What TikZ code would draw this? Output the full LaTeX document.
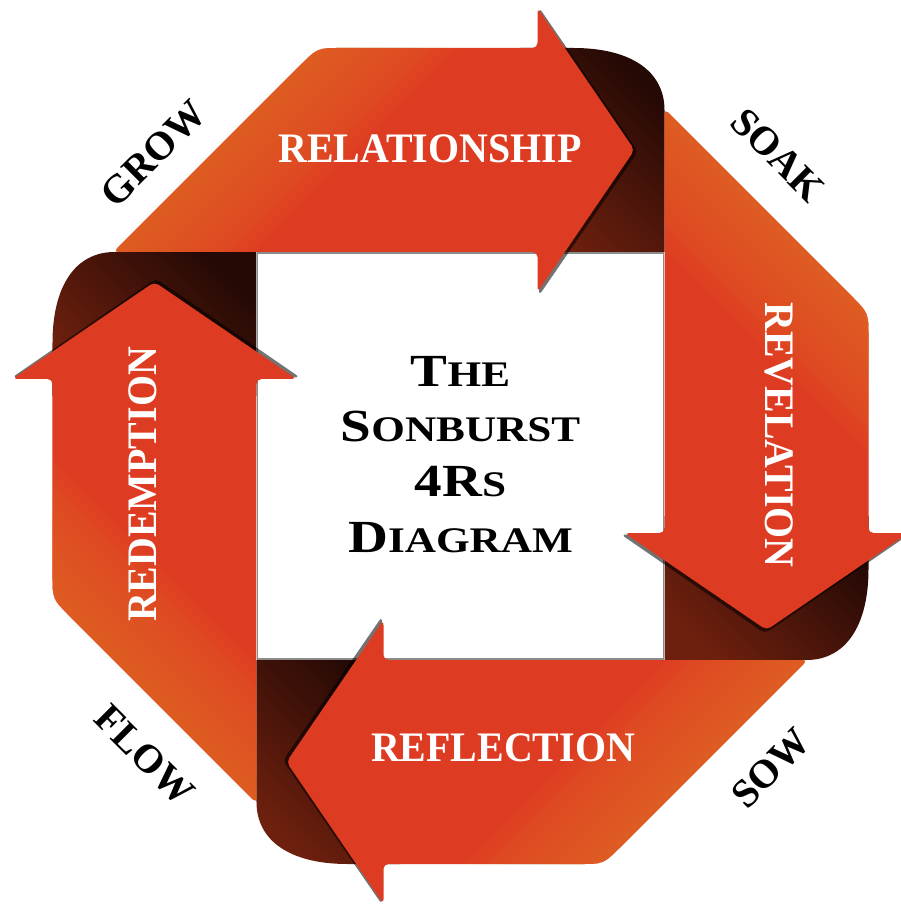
\documentclass[tikz,border=0pt]{standalone}
\usepackage{fontspec}
\setmainfont{Liberation Serif}
\usepackage{graphicx}
\definecolor{armred}{RGB}{222,60,34}
\definecolor{armlight}{RGB}{236,112,46}
\definecolor{browndark}{RGB}{36,9,5}
\definecolor{brownlight}{RGB}{110,32,14}
\newcommand\tbig[1]{{\fontsize{46}{50}\selectfont #1}}
\newcommand\tsmall[1]{{\fontsize{36}{40}\selectfont #1}}
\tikzset{
  armlbl/.style={text=white, font=\fontsize{42}{46}\selectfont\bfseries, inner sep=0pt},
  cornerlbl/.style={text=black, font=\fontsize{40}{44}\selectfont\bfseries, inner sep=0pt},
  titleline/.style={text=black, font=\bfseries, inner sep=0pt, anchor=base},
  foldshade/.style={top color=browndark, bottom color=brownlight, shading angle=-45},
  glow/.style={fill=armlight, opacity=0.05},
}
\begin{document}
\begin{tikzpicture}[x=1pt,y=1pt]
\useasboundingbox[fill=white] (-460.5,-451) rectangle (440.5,456);
% folded (dark) parts behind each arrow head
\foreach \a in {0,90,180,270} {
  \begin{scope}[rotate=\a]
    \shade[foldshade] (60,204) -- (60,408) -- (113,408) .. controls (170,408) and (204,385) .. (204,346) -- (204,204) -- cycle;
  \end{scope}
}
% shadow line round the inner square
\draw[black!45, line width=1.2pt] (-203,-203) rectangle (203,203);
% the four arrows
\foreach \a in {0,90,180,270} {
  \begin{scope}[rotate=\a]
    \fill[black, opacity=.55, shift={(1.5,-1.5)}, rounded corners=5pt] (77,450) -- (176,306) -- (77,162) -- cycle;
    \fill[armred, rounded corners=5pt] (-347,204) -- (-165,386) .. controls (-143,408) .. (-115,408) -- (77,408) -- (77,448) -- (174,306) -- (77,164) -- (77,204) -- cycle;
    \begin{scope}
      \clip[rounded corners=5pt] (-347,204) -- (-165,386) .. controls (-143,408) .. (-115,408) -- (77,408) -- (77,448) -- (174,306) -- (77,164) -- (77,204) -- cycle;
      \begin{scope}[shift={(-245,306)}, rotate=-45]
        \foreach \d in {4,8,...,100} {
          \fill[glow] (-60,-400) rectangle (\d,400);
        }
      \end{scope}
    \end{scope}
  \end{scope}
}
% arm labels
\node[armlbl] (relationship) at (-30.5,307.5) {\scalebox{0.95}[1]{RELATIONSHIP}};
\node[armlbl, rotate=-90] (revelation) at (318.5,21) {\scalebox{0.95}[1]{REVELATION}};
\node[armlbl] (reflection) at (42.5,-292) {\scalebox{0.95}[1]{REFLECTION}};
\node[armlbl, rotate=90] (redemption) at (-317.5,-28.5) {\scalebox{0.95}[1]{REDEMPTION}};
% corner words
\node[cornerlbl, rotate=45] (grow) at (-307,302.5) {GROW};
\node[cornerlbl, rotate=-45] (soak) at (317.5,301) {SOAK};
\node[cornerlbl, rotate=-45] (flow) at (-315.5,-299) {FLOW};
\node[cornerlbl, rotate=45] (sow) at (310.5,-312) {SOW};
% title
\node[titleline] (title1) at (0,69) {\scalebox{1.2}[1]{\tbig{T}\tsmall{HE}}};
\node[titleline] (title2) at (0,14) {\scalebox{1.2}[1]{\tbig{S}\tsmall{ONBURST}}};
\node[titleline] (title3) at (0,-41) {\scalebox{1.2}[1]{\tbig{4R}\tsmall{S}}};
\node[titleline] (title4) at (0,-96) {\scalebox{1.2}[1]{\tbig{D}\tsmall{IAGRAM}}};
\end{tikzpicture}
\end{document}
